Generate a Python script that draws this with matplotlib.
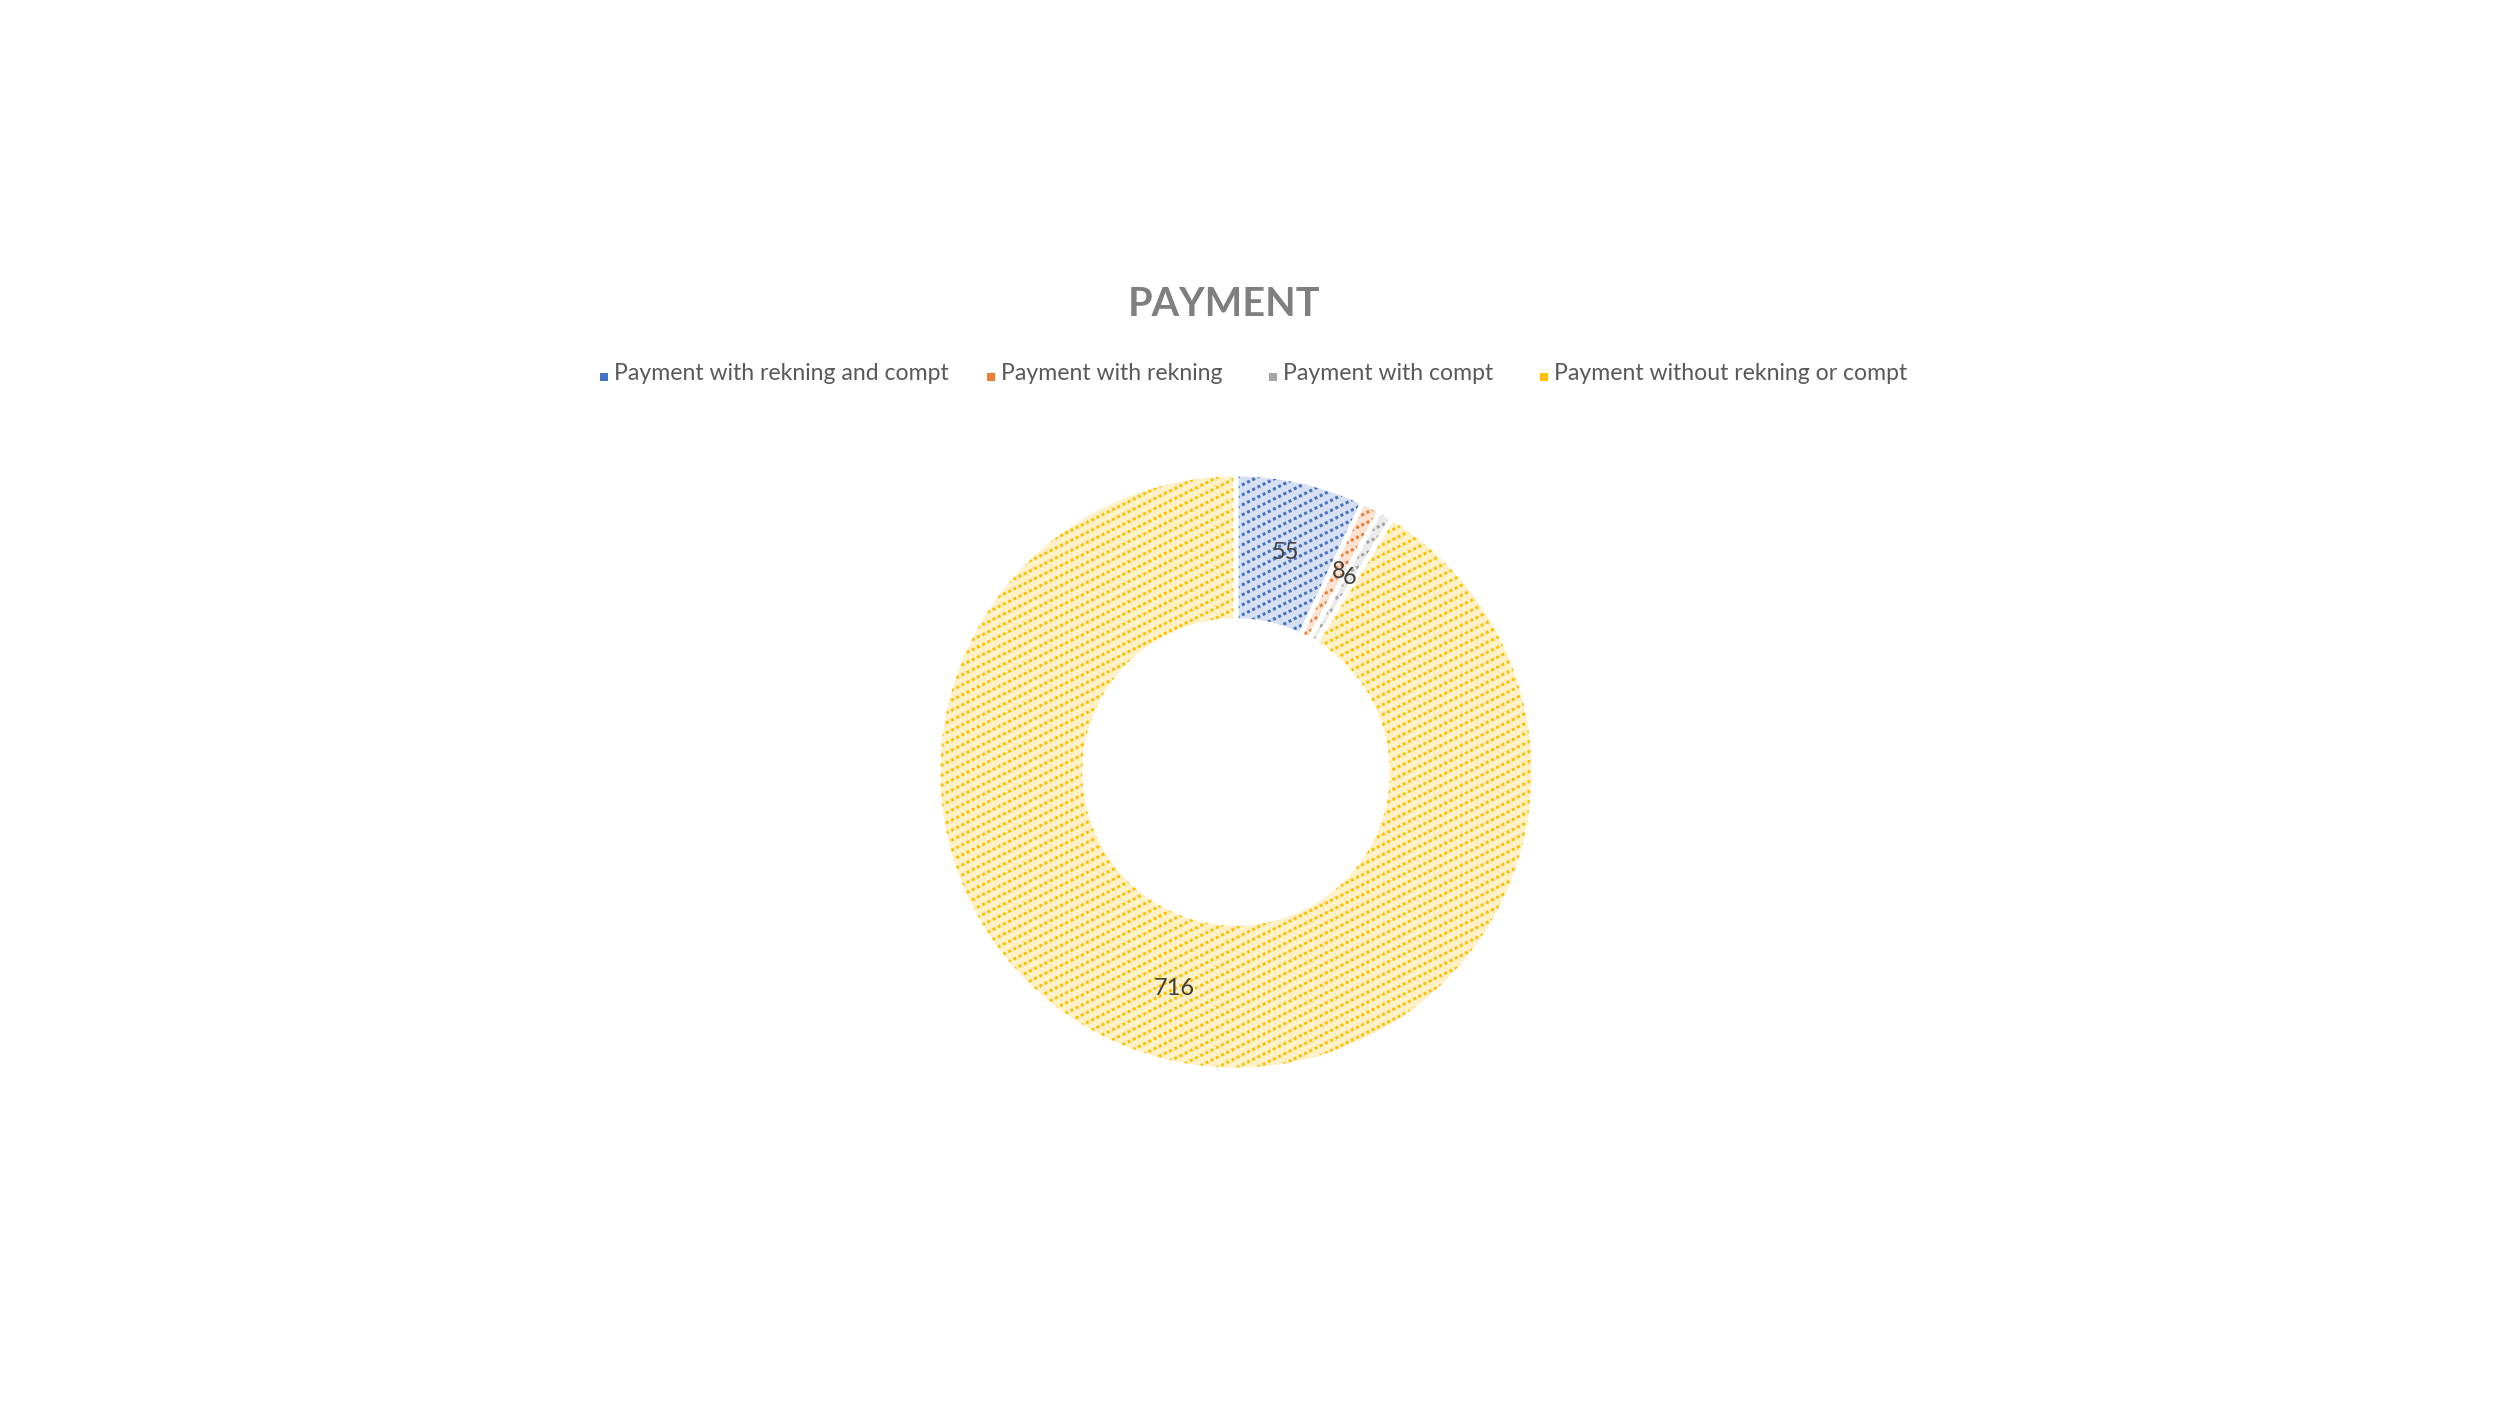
import numpy as np
import matplotlib
matplotlib.use("Agg")
import matplotlib.pyplot as plt
from matplotlib.collections import LineCollection
from matplotlib.colors import to_rgb
from matplotlib.patches import Rectangle

# data
categories = ["Payment with rekning and compt", "Payment with rekning",
              "Payment with compt", "Payment without rekning or compt"]
values = [55, 8, 6, 716]
colors = ["#4472C4", "#ED7D31", "#A5A5A5", "#FFC000"]

plt.rcParams['font.family'] = ['Lato', 'DejaVu Sans']

W, H = 2500, 1406
fig = plt.figure(figsize=(W / 100, H / 100), dpi=100)

# donut geometry (pixels)
cx, cy, R = 1236, 772, 298
half = 1.2
ax = fig.add_axes([(cx - half * R) / W, (H - cy - half * R) / H,
                   2 * half * R / W, 2 * half * R / H])

hole = 0.508
ring = 1 - hole


def light(c, a=0.22):
    r, g, b = to_rgb(c)
    return (1 - a * (1 - r), 1 - a * (1 - g), 1 - a * (1 - b))


wedges, _ = ax.pie(values, colors=[light(c) for c in colors], startangle=90,
                   counterclock=False, radius=1,
                   wedgeprops=dict(width=ring, linewidth=0))

# dotted upward-diagonal pattern, clipped to each wedge
step = 10 / R
slope = 0.5
xs = np.array([-1.2, 1.2])
segs = [np.column_stack([xs, slope * xs + c]) for c in np.arange(-2, 2, step)]
for w, c in zip(wedges, colors):
    lc = LineCollection(segs, colors=c, linewidths=2.2,
                        linestyles=[(0, (1, 0.9))], capstyle='butt', zorder=2)
    ax.add_collection(lc)
    lc.set_clip_path(w)

# white separators on top
ax.pie(values, colors=['none'] * 4, startangle=90, counterclock=False, radius=1,
       wedgeprops=dict(width=ring, linewidth=3.5, edgecolor='white', zorder=3))

ax.set_xlim(-half, half)
ax.set_ylim(-half, half)
ax.set_aspect('equal')
ax.axis('off')

# data labels in the middle of the ring
rmid = (1 + hole) / 2
for w, v in zip(wedges, values):
    a = np.deg2rad((w.theta1 + w.theta2) / 2)
    ax.text(rmid * np.cos(a), rmid * np.sin(a), str(v), ha='center', va='center',
            fontsize=17, color='#404040', zorder=4)

# title
fig.text(1224 / W, 1 - 305 / H, "PAYMENT", ha='center', va='center',
         fontsize=28.5, fontweight='bold', color='#7F7F7F')

# legend
leg_x = [614, 1001, 1283, 1554]
leg_y = 374
for x, lab, c in zip(leg_x, categories, colors):
    fig.text(x / W, 1 - leg_y / H, lab, ha='left', va='center',
             fontsize=16.6, color='#595959')
    fig.patches.append(Rectangle(((x - 14) / W, 1 - (leg_y + 7) / H), 8 / W, 8 / H,
                                 transform=fig.transFigure, facecolor=c,
                                 edgecolor='none'))

fig.savefig("out.png", dpi=100, facecolor='white')
